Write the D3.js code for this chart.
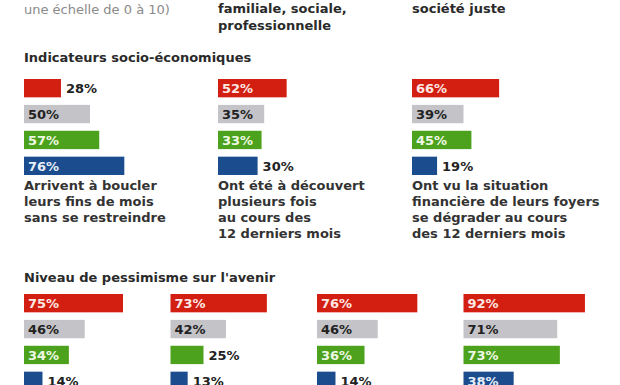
<!DOCTYPE html>
<html>
<head>
<meta charset="utf-8">
<script src="https://cdn.jsdelivr.net/npm/d3@7"></script>
<style>
  body { margin: 0; background: #fff; }
  svg { display: block; font-family: "DejaVu Sans", sans-serif; }
</style>
</head>
<body>
<script>
// series colours (red, gray, green, blue)
var seriesColors = ["#d21f12", "#c4c4c8", "#4ca21c", "#1b4c8e"];
var labelInside = ["#fde8e4", "#222", "#eef8e4", "#e6eef8"];

// socio-economic indicators
var socioCategories = [
  ["Arrivent à boucler", "leurs fins de mois", "sans se restreindre"],
  ["Ont été à découvert", "plusieurs fois", "au cours des", "12 derniers mois"],
  ["Ont vu la situation", "financière de leurs foyers", "se dégrader au cours", "des 12 derniers mois"]
];
var socioRed = [28, 52, 66];
var socioGray = [50, 35, 39];
var socioGreen = [57, 33, 45];
var socioBlue = [76, 30, 19];

// pessimism
var pessRed = [75, 73, 76, 92];
var pessGray = [46, 42, 46, 71];
var pessGreen = [34, 25, 36, 73];
var pessBlue = [14, 13, 14, 38];

// header fragments (the top of the graphic is cut off)
var headerGray = "une échelle de 0 à 10)";
var headerCols = [["familiale, sociale,", "professionnelle"], ["société juste"]];

var w = 620, h = 385;
var svg = d3.select("body").append("svg").attr("width", w).attr("height", h);

var x = d3.scaleLinear().domain([0, 100]).range([0, 132]);
var socioX = d3.scaleBand().domain(d3.range(3)).range([24, 24 + 3 * 194]);
var socioY = d3.scaleBand().domain(d3.range(4)).range([79, 79 + 4 * 24]).paddingInner(7 / 24).align(0);
var pessX = d3.scaleBand().domain(d3.range(4)).range([24, 24 + 4 * 146.5]);
var pessY = d3.scaleBand().domain(d3.range(4)).range([294, 294 + 4 * 24]).paddingInner(7 / 24).align(0);

svg.append("text").attr("x", 24).attr("y", 14)
  .attr("font-size", 13).attr("fill", "#8a8a8a").text(headerGray);
headerCols.forEach(function(lines, i) {
  var t = svg.append("text").attr("font-size", 13).attr("font-weight", "bold").attr("fill", "#2a2a2a");
  lines.forEach(function(line, j) {
    t.append("tspan").attr("x", socioX(i + 1)).attr("y", 13 + j * 17).text(line);
  });
});

function drawSection(title, titleY, groupX, rowY, series) {
  svg.append("text").attr("x", 24).attr("y", titleY)
    .attr("font-size", 13).attr("font-weight", "bold").attr("fill", "#2a2a2a").text(title);

  var rows = series.map(function(vals, s) {
    return vals.map(function(v, g) { return {s: s, g: g, v: v}; });
  });
  var flat = d3.merge(rows);

  var gs = svg.append("g");
  gs.selectAll("rect").data(flat).enter().append("rect")
    .attr("x", function(d) { return groupX(d.g); })
    .attr("y", function(d) { return rowY(d.s); })
    .attr("width", function(d) { return x(d.v); })
    .attr("height", rowY.bandwidth())
    .attr("fill", function(d) { return seriesColors[d.s]; });

  gs.selectAll("text").data(flat).enter().append("text")
    .attr("x", function(d) {
      return d.v >= 32 ? groupX(d.g) + 4 : groupX(d.g) + x(d.v) + 5;
    })
    .attr("y", function(d) { return rowY(d.s) + rowY.bandwidth() / 2; })
    .attr("dy", "0.36em")
    .attr("font-size", 13).attr("font-weight", "bold")
    .attr("fill", function(d) { return d.v >= 32 ? labelInside[d.s] : "#222"; })
    .text(function(d) { return d.v + "%"; });
}

drawSection("Indicateurs socio-économiques", 62, function(g) { return socioX(g); }, socioY,
  [socioRed, socioGray, socioGreen, socioBlue]);

// category labels
socioCategories.forEach(function(lines, g) {
  var t = svg.append("text").attr("font-size", 13).attr("font-weight", "bold").attr("fill", "#333");
  lines.forEach(function(line, i) {
    t.append("tspan").attr("x", socioX(g)).attr("y", 190 + i * 16).text(line);
  });
});

drawSection("Niveau de pessimisme sur l'avenir", 282, function(g) { return pessX(g); }, pessY,
  [pessRed, pessGray, pessGreen, pessBlue]);
</script>
</body>
</html>
